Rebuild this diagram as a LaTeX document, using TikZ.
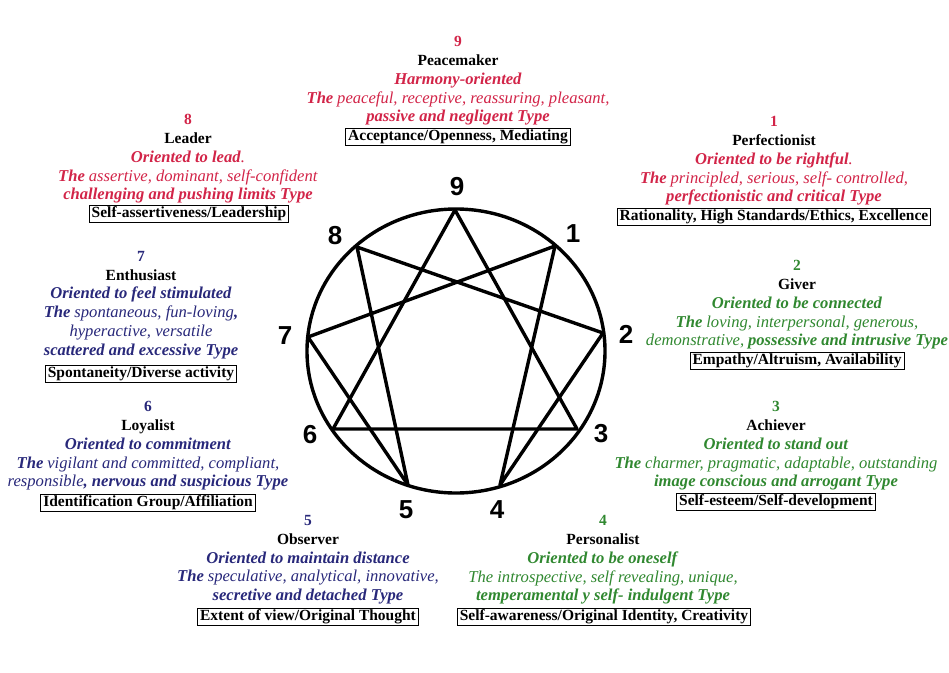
\documentclass[tikz,border=0pt]{standalone}
\usepackage{fontspec}
\setmainfont{Liberation Serif}
\setsansfont{Liberation Sans}
\definecolor{tred}{RGB}{210,36,72}
\definecolor{tblue}{RGB}{40,40,122}
\definecolor{tgreen}{RGB}{48,136,48}
\newcommand{\bi}[1]{{\fontsize{16.6}{18.7}\selectfont\textbf{\textit{#1}}}}
\newcommand{\ii}[1]{{\fontsize{16.6}{18.7}\selectfont\textit{#1}}}
\begin{document}
\begin{tikzpicture}[x=1pt,y=-1pt,
  blk/.style={align=center, inner sep=0pt, font=\fontsize{15.5}{18.7}\selectfont},
  ptbox/.style={draw, line width=0.9pt, inner xsep=2.5pt, inner ysep=1.5pt, font=\bfseries\fontsize{15.5}{18}\selectfont},
  num/.style={font=\sffamily\bfseries\fontsize{26}{26}\selectfont},
  ring/.style={line width=3.4pt, line join=round, line cap=round}]
\useasboundingbox (0,0) rectangle (949,672);

% enneagram
\coordinate (c) at (456,351);
\coordinate (p9) at (455,210);
\coordinate (p1) at (555,246);
\coordinate (p2) at (603,333);
\coordinate (p3) at (577,429);
\coordinate (p4) at (500,485);
\coordinate (p5) at (408,485);
\coordinate (p6) at (333,429);
\coordinate (p7) at (308,337);
\coordinate (p8) at (357,247);
\draw[ring] (c) ellipse [x radius=149, y radius=142];
\draw[ring] (p9) -- (p3) -- (p6) -- cycle;
\draw[ring] (p1) -- (p4) -- (p2) -- (p8) -- (p5) -- (p7) -- cycle;

\node[num] (n9) at (457,187) {9};
\node[num] (n1) at (573,234) {1};
\node[num] (n2) at (626,334) {2};
\node[num] (n3) at (601,434) {3};
\node[num] (n4) at (497,510) {4};
\node[num] (n5) at (406,510) {5};
\node[num] (n6) at (310,435) {6};
\node[num] (n7) at (285,336) {7};
\node[num] (n8) at (335,236) {8};

% 9
\node[blk, text=tred] (t9) at (458,81) {\textbf{9}\\ \textcolor{black}{\textbf{Peacemaker}}\\ \bi{Harmony-oriented}\\ \bi{The} \ii{peaceful, receptive, reassuring, pleasant,}\\ \bi{passive and negligent Type}};
\node[ptbox] (b9) at (458,137) {Acceptance/Openness, Mediating};
% 8
\node[blk, text=tred] (t8) at (188,159) {\textbf{8}\\ \textcolor{black}{\textbf{Leader}}\\ \bi{Oriented to lead}\ii{.}\\ \bi{The} \ii{assertive, dominant, self-confident}\\ \bi{challenging and pushing limits Type}};
\node[ptbox] (b8) at (189,214) {Self-assertiveness/Leadership};
% 1
\node[blk, text=tred] (t1) at (774,161) {\textbf{1}\\ \textcolor{black}{\textbf{Perfectionist}}\\ \bi{Oriented to be rightful}\ii{.}\\ \bi{The} \ii{principled, serious, self- controlled,}\\ \bi{perfectionistic and critical Type}};
\node[ptbox] (b1) at (774,217) {Rationality, High Standards/Ethics, Excellence};
% 7
\node[blk, text=tblue] (t7) at (141,305) {\textbf{7}\\ \textcolor{black}{\textbf{Enthusiast}}\\ \bi{Oriented to feel stimulated}\\ \bi{The} \ii{spontaneous, fun-loving}\bi{,}\\ \ii{hyperactive, versatile}\\ \bi{scattered and excessive Type}};
\node[ptbox] (b7) at (141,374) {Spontaneity/Diverse activity};
% 2
\node[blk, text=tgreen] (t2) at (797,305) {\textbf{2}\\ \textcolor{black}{\textbf{Giver}}\\ \bi{Oriented to be connected}\\ \bi{The} \ii{loving, interpersonal, generous,}\\ \ii{demonstrative,} \bi{possessive and intrusive Type}};
\node[ptbox] (b2) at (797,361) {Empathy/Altruism, Availability};
% 6
\node[blk, text=tblue] (t6) at (148,446) {\textbf{6}\\ \textcolor{black}{\textbf{Loyalist}}\\ \bi{Oriented to commitment}\\ \bi{The} \ii{vigilant and committed, compliant,}\\ \ii{responsible}\bi{, nervous and suspicious Type}};
\node[ptbox] (b6) at (148,503) {Identification Group/Affiliation};
% 3
\node[blk, text=tgreen] (t3) at (776,446) {\textbf{3}\\ \textcolor{black}{\textbf{Achiever}}\\ \bi{Oriented to stand out}\\ \bi{The} \ii{charmer, pragmatic, adaptable, outstanding}\\ \bi{image conscious and arrogant Type}};
\node[ptbox] (b3) at (776,502) {Self-esteem/Self-development};
% 5
\node[blk, text=tblue] (t5) at (308,560) {\textbf{5}\\ \textcolor{black}{\textbf{Observer}}\\ \bi{Oriented to maintain distance}\\ \bi{The} \ii{speculative, analytical, innovative,}\\ \bi{secretive and detached Type}};
\node[ptbox] (b5) at (308,617) {Extent of view/Original Thought};
% 4
\node[blk, text=tgreen] (t4) at (603,560) {\textbf{4}\\ \textcolor{black}{\textbf{Personalist}}\\ \bi{Oriented to be oneself}\\ \ii{The introspective, self revealing, unique,}\\ \bi{temperamental y self- indulgent Type}};
\node[ptbox] (b4) at (604,617) {Self-awareness/Original Identity, Creativity};
\end{tikzpicture}
\end{document}
